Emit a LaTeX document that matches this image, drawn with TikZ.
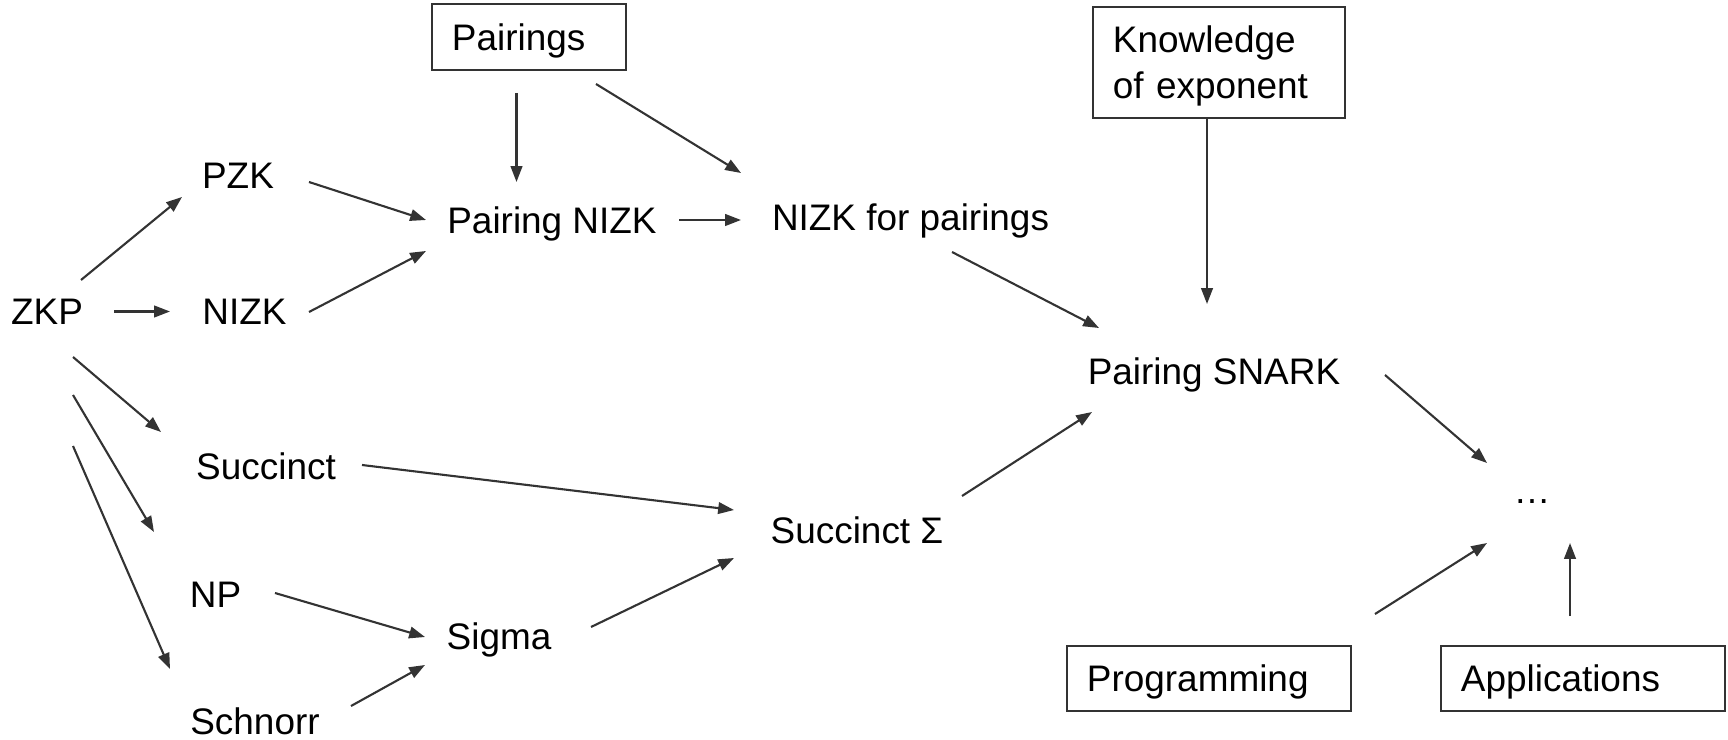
\documentclass[tikz,border=0pt]{standalone}
\usepackage{fontspec}
\setmainfont{Liberation Sans}
\usepackage{tikz}
\usetikzlibrary{arrows.meta, calc}
\definecolor{linegray}{HTML}{333333}

\begin{document}
\begin{tikzpicture}[
    x=0.01cm, y=-0.01cm,
    font=\fontsize{10.5}{13}\selectfont,
    term/.style={inner sep=0pt, text height=0.265cm, text depth=0pt},
    box/.style={rectangle, draw=linegray, line width=0.5pt, align=left, inner xsep=0.2cm, inner ysep=0pt},
    onebox/.style={box, text height=0.265cm, text depth=0pt},
    twobox/.style={box, text height=0.265cm, text depth=0.457cm},
    arrow/.style={draw=linegray, line width=0.6pt, -{Triangle[length=4.5pt, width=3.3pt]}}
]
\useasboundingbox (0,0) rectangle (1728,740);

\node (zkp) [term] at (47,311.5) {ZKP};
\node (pzk) [term] at (238,175.5) {PZK};
\node (nizk) [term] at (244.5,311.5) {NIZK};
\node (pairings) [onebox, text width=1.54cm, minimum height=0.66cm] at (529,37) {Pairings};
\node (pnizk) [term] at (552,220) {Pairing NIZK};
\node (nfp) [term] at (910.5,217) {NIZK for pairings};
\node (koe) [twobox, text width=2.12cm, minimum height=1.11cm] at (1219,62.5) {Knowledge\\of exponent};
\node (snark) [term] at (1214,371) {Pairing SNARK};
\node (succ) [term] at (266,466) {Succinct};
\node (succsig) [term] at (857,530) {Succinct Σ};
\node (np) [term] at (215.5,594) {NP};
\node (sigma) [term] at (499,636) {Sigma};
\node (schnorr) [term] at (255,721) {Schnorr};
\node (dots) [term] at (1532,490) {…};
\node (prog) [onebox, text width=2.44cm, minimum height=0.65cm] at (1209,678.5) {Programming};
\node (apps) [onebox, text width=2.44cm, minimum height=0.65cm] at (1583,678.5) {Applications};

\draw [arrow] ($(zkp)+(34,-31.5)$) -- ($(pzk)+(-56,21.5)$);
\draw [arrow] ($(zkp)+(67,0)$) -- ($(nizk)+(-74.5,0)$);
\draw [arrow] ($(zkp)+(26,45.5)$) -- ($(succ)+(-105,-34)$);
\draw [arrow] ($(zkp)+(26,83.5)$) -- ($(np)+(-61.5,-62)$);
\draw [arrow] ($(zkp)+(26,134.5)$) -- ($(schnorr)+(-85,-52)$);
\draw [arrow] ($(pzk)+(71,6.5)$) -- ($(pnizk)+(-126,0)$);
\draw [arrow] ($(nizk)+(64.5,0.5)$) -- ($(pnizk)+(-126,31)$);
\draw [arrow] ($(pairings)+(-12.5,56)$) -- ($(pnizk)+(-35.5,-38)$);
\draw [arrow] ($(pairings)+(67,47)$) -- ($(nfp)+(-169.5,-44)$);
\draw [arrow] ($(pnizk)+(127,0)$) -- ($(nfp)+(-169.5,3)$);
\draw [arrow] ($(nfp)+(41.5,35)$) -- ($(snark)+(-115,-43)$);
\draw [arrow] ($(koe.south)+(-12,0)$) -- ($(snark)+(-7,-67)$);
\draw [arrow] ($(succ)+(96,-1)$) -- ($(succsig)+(-123,-20)$);
\draw [arrow] ($(np)+(59.5,-1)$) -- ($(sigma)+(-74,1)$);
\draw [arrow] ($(schnorr)+(96,-15)$) -- ($(sigma)+(-74,29)$);
\draw [arrow] ($(sigma)+(92,-9)$) -- ($(succsig)+(-123,28)$);
\draw [arrow] ($(succsig)+(105,-34)$) -- ($(snark)+(-122,41)$);
\draw [arrow] ($(snark)+(171,4)$) -- ($(dots)+(-45,-27)$);
\draw [arrow] ($(prog)+(166,-64.5)$) -- ($(dots)+(-45,53)$);
\draw [arrow] ($(apps)+(-13,-62.5)$) -- ($(dots)+(38,53)$);

\end{tikzpicture}
\end{document}
